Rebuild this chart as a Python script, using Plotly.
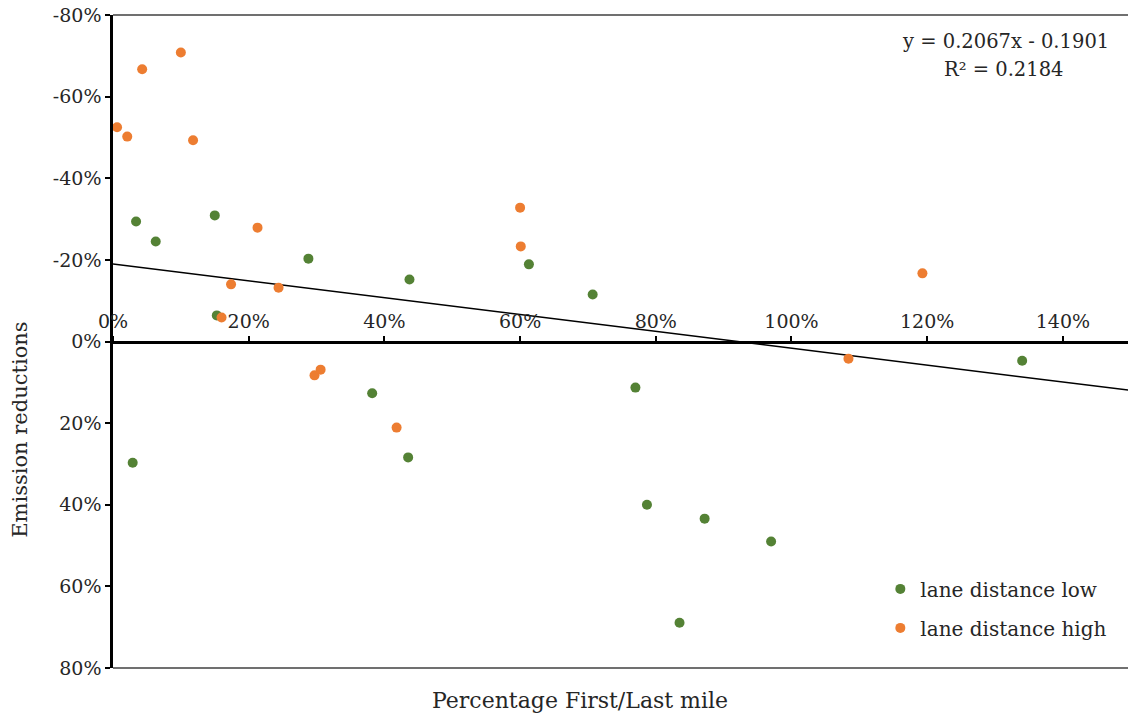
import plotly.graph_objects as go

# lane distance low (green)
low_x = [0.034, 0.063, 0.150, 0.153, 0.288, 0.437, 0.613, 0.707, 1.340, 0.770, 0.382, 0.435, 0.029, 0.787, 0.872, 0.970, 0.835]
low_y = [-0.294, -0.245, -0.309, -0.064, -0.203, -0.152, -0.189, -0.115, 0.047, 0.113, 0.127, 0.284, 0.297, 0.400, 0.434, 0.490, 0.689]

# lane distance high (orange)
high_x = [0.006, 0.021, 0.043, 0.100, 0.118, 0.213, 0.174, 0.244, 0.160, 0.600, 0.601, 1.193, 1.084, 0.297, 0.306, 0.418]
high_y = [-0.525, -0.502, -0.667, -0.708, -0.493, -0.279, -0.140, -0.132, -0.059, -0.328, -0.233, -0.167, 0.042, 0.083, 0.069, 0.211]

slope = 0.2067
intercept = -0.1901
x_ticks = [0, 0.2, 0.4, 0.6, 0.8, 1.0, 1.2, 1.4]
x_labels = ["0%", "20%", "40%", "60%", "80%", "100%", "120%", "140%"]
y_ticks = [-0.8, -0.6, -0.4, -0.2, 0, 0.2, 0.4, 0.6, 0.8]
y_labels = ["-80%", "-60%", "-40%", "-20%", "0%", "20%", "40%", "60%", "80%"]
trend_x = [0, 1.5]
trend_y = [slope * v + intercept for v in trend_x]

FONT = "DejaVu Serif"
GREEN = "#548235"
ORANGE = "#ED7D31"
TXT = "#262626"

fig = go.Figure()
fig.add_trace(go.Scatter(x=trend_x, y=trend_y, mode="lines",
                         line=dict(color="black", width=1.5), showlegend=False, hoverinfo="skip"))
fig.add_trace(go.Scatter(x=low_x, y=low_y, mode="markers", name="lane distance low",
                         legendgroup="low", marker=dict(color=GREEN, size=10)))
fig.add_trace(go.Scatter(x=high_x, y=high_y, mode="markers", name="lane distance high",
                         legendgroup="high", marker=dict(color=ORANGE, size=10)))

fig.update_layout(
    width=1128, height=717,
    margin=dict(l=113, r=0, t=15, b=49),
    plot_bgcolor="white", paper_bgcolor="white",
    font=dict(family=FONT, size=19, color=TXT),
    legend=dict(x=0.756, y=0.151, xanchor="left", yanchor="top",
                font=dict(family=FONT, size=20, color=TXT),
                bgcolor="rgba(0,0,0,0)", itemwidth=30, tracegroupgap=10),
    xaxis=dict(range=[0, 1.496], tickvals=x_ticks, ticktext=x_labels,
               side="top", anchor="free", position=0.5, automargin=False,
               showgrid=False, zeroline=False, showline=True, linecolor="black", linewidth=2.5,
               ticks="outside", ticklen=5, tickwidth=2, tickcolor="black",
               tickfont=dict(family=FONT, size=19, color=TXT)),
    yaxis=dict(range=[0.8, -0.8], tickvals=y_ticks, ticktext=y_labels, automargin=False,
               showgrid=False, zeroline=False, showline=True, linecolor="black", linewidth=2.5,
               ticks="outside", ticklen=5, tickwidth=2, tickcolor="black",
               tickfont=dict(family=FONT, size=19, color=TXT)),
    shapes=[
        dict(type="line", xref="paper", yref="paper", x0=0, x1=1, y0=1, y1=1,
             line=dict(color="#404040", width=1.5)),
        dict(type="line", xref="paper", yref="paper", x0=0, x1=1, y0=0, y1=0,
             line=dict(color="#404040", width=1.5)),
    ],
    annotations=[
        dict(text="y = 0.2067x - 0.1901", xref="paper", yref="paper",
             x=0.879, y=0.9587, xanchor="center", yanchor="middle", showarrow=False,
             font=dict(family=FONT, size=19.5, color=TXT)),
        dict(text="R² = 0.2184", xref="paper", yref="paper",
             x=0.877, y=0.9158, xanchor="center", yanchor="middle", showarrow=False,
             font=dict(family=FONT, size=19.5, color=TXT)),
        dict(text="Percentage First/Last mile", xref="paper", yref="paper",
             x=0.46, y=-0.0505, xanchor="center", yanchor="middle", showarrow=False,
             font=dict(family=FONT, size=22, color=TXT)),
        dict(text="Emission reductions", xref="paper", yref="paper", textangle=-90,
             x=-0.0915, y=0.365, xanchor="center", yanchor="middle", showarrow=False,
             font=dict(family=FONT, size=21, color=TXT)),
    ],
)

fig.write_html("out.html", config={"displayModeBar": False},
               post_script="document.body.style.margin='0';document.body.style.overflow='hidden';")
